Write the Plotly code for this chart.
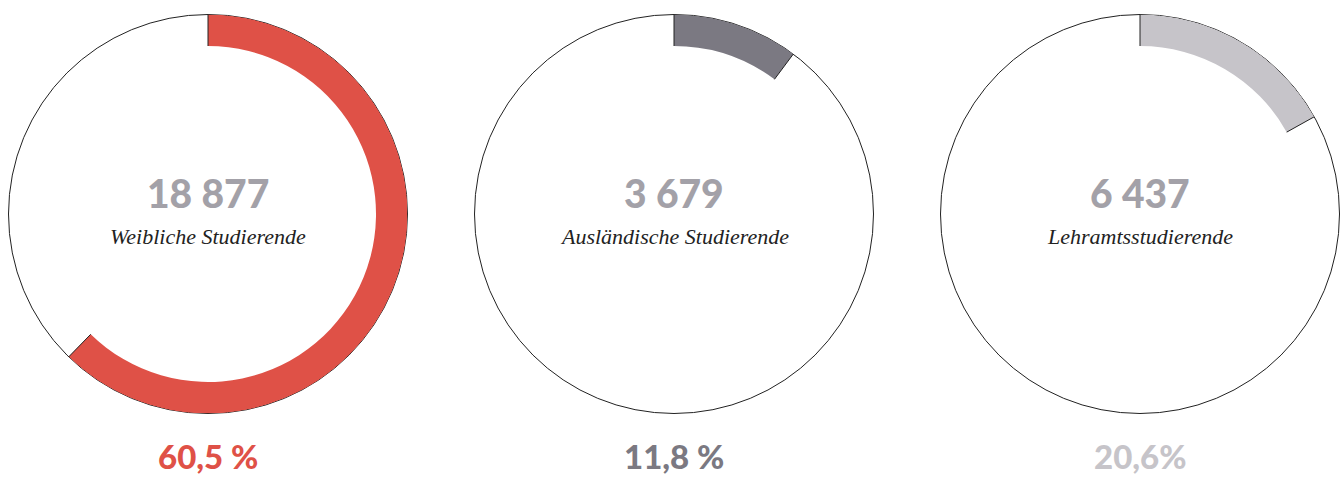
import plotly.graph_objects as go

# Data
labels = ["Weibliche Studierende", "Ausländische Studierende", "Lehramtsstudierende"]
counts = ["18 877", "3 679", "6 437"]
pct_text = ["60,5 %", "11,8 %", "20,6%"]
arc_share = [62.3, 10.2, 16.9]  # share of ring filled, as drawn (percent)
colors = ["#df5147", "#7b7982", "#c6c4c9"]

W, H = 1342, 478
centers_x = [208, 674, 1140]
center_y = 214
R = 199.5
inner = 168 / 199.5

fig = go.Figure()
for i, (share, col) in enumerate(zip(arc_share, colors)):
    pid = "polar" if i == 0 else f"polar{i+1}"
    deg = share * 3.6
    fig.add_trace(go.Barpolar(
        r=[1 - inner], base=[inner], theta=[deg / 2], width=[deg],
        marker=dict(color=col, line=dict(width=0)),
        subplot=pid, hoverinfo="skip", showlegend=False,
    ))
    fig.add_trace(go.Scatterpolar(
        r=[inner, 1, None, inner, 1], theta=[0, 0, None, deg, deg],
        mode="lines", line=dict(color="#222222", width=1),
        subplot=pid, hoverinfo="skip", showlegend=False,
    ))
    cx = centers_x[i]
    dom = dict(x=[(cx - R) / W, (cx + R) / W],
               y=[1 - (center_y + R) / H, 1 - (center_y - R) / H])
    fig.update_layout(**{pid: dict(
        domain=dom, bgcolor="white", hole=0,
        radialaxis=dict(visible=False, range=[0, 1]),
        angularaxis=dict(direction="clockwise", rotation=90, showgrid=False,
                         showticklabels=False, ticks="", showline=True,
                         linecolor="#222222", linewidth=1, layer="below traces"),
    )})
    common = dict(xref="paper", yref="paper", xanchor="center", yanchor="middle",
                  showarrow=False, borderpad=0)
    fig.add_annotation(x=cx / W, y=1 - 193 / H, text=counts[i],
                       font=dict(family="Lato", size=39, color="#a3a1a8", weight=900),
                       **common)
    fig.add_annotation(x=cx / W, y=1 - 236 / H, text=f"<i>{labels[i]}</i>",
                       font=dict(family="Liberation Serif", size=22, color="#222222"),
                       **common)
    fig.add_annotation(x=cx / W, y=0.002, text=pct_text[i],
                       font=dict(family="Lato", size=33, color=col, weight=900),
                       xref="paper", yref="paper", xanchor="center", yanchor="bottom",
                       showarrow=False, borderpad=0)

fig.update_layout(width=W, height=H, margin=dict(l=0, r=0, t=0, b=0),
                  paper_bgcolor="white", plot_bgcolor="white", showlegend=False)
fig.write_html("out.html")
